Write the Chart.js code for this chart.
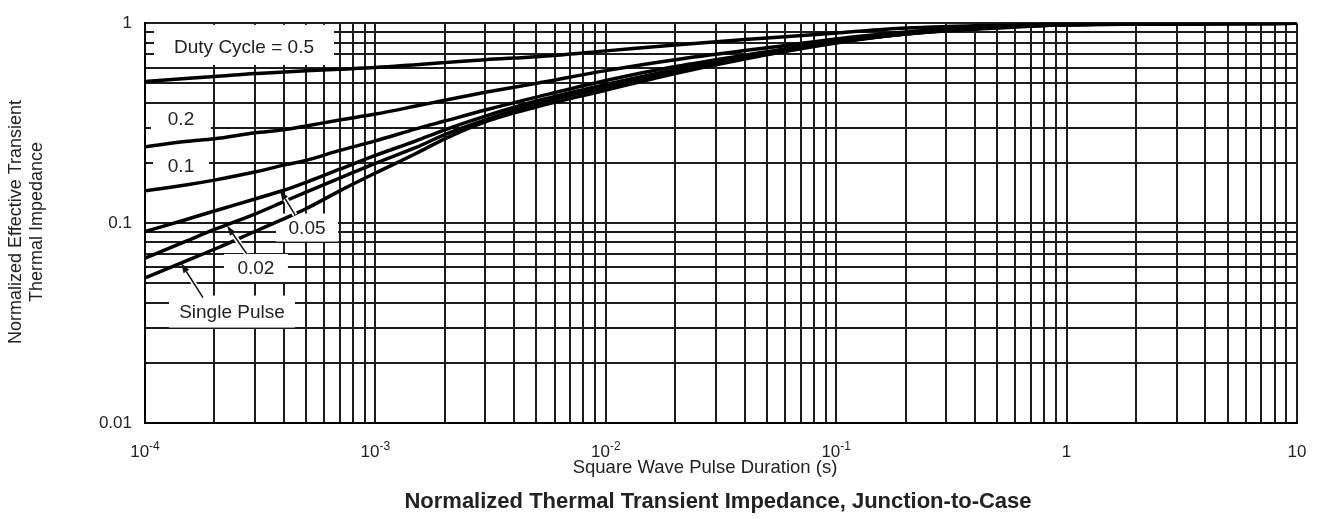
<!DOCTYPE html>
<html>
<head>
<meta charset="utf-8">
<title>Normalized Thermal Transient Impedance, Junction-to-Case</title>
<script src="https://cdn.jsdelivr.net/npm/chart.js@4"></script>
<style>
    html, body { margin: 0; padding: 0; background: #fff; }
    #wrap { width: 1319px; height: 519px; position: relative; }
</style>
</head>
<body>
<div id="wrap"><canvas id="zth"></canvas></div>
<script>
// ─────────────────────────────────────────────────────────────────────────
// Normalized transient thermal impedance vs. square wave pulse duration
// (log-log)
// ─────────────────────────────────────────────────────────────────────────

/* ── Data ─────────────────────────────────────────────────────────────── */
const pulseDuration = [1e-4, 1.5e-4, 2e-4, 3e-4, 4e-4, 5e-4, 7e-4, 1e-3, 1.5e-3, 2e-3,
                       3e-3, 5e-3, 1e-2, 2e-2, 5e-2, 0.1, 0.2, 0.5, 1, 10];

const duty05      = [0.511, 0.529, 0.541, 0.560, 0.570, 0.579, 0.589, 0.600, 0.620, 0.635,
                     0.657, 0.680, 0.727, 0.779, 0.843, 0.893, 0.945, 0.978, 0.989, 1.0];
const duty02      = [0.241, 0.256, 0.264, 0.283, 0.293, 0.306, 0.328, 0.351, 0.385, 0.412,
                     0.451, 0.500, 0.579, 0.657, 0.753, 0.834, 0.903, 0.967, 0.983, 1.0];
const duty01      = [0.145, 0.155, 0.164, 0.180, 0.195, 0.206, 0.231, 0.258, 0.296, 0.324,
                     0.368, 0.427, 0.517, 0.607, 0.719, 0.815, 0.893, 0.956, 0.983, 1.0];
const duty005     = [0.0908, 0.104, 0.115, 0.132, 0.146, 0.160, 0.186, 0.218, 0.258, 0.293,
                     0.343, 0.408, 0.494, 0.586, 0.711, 0.806, 0.883, 0.956, 0.983, 1.0];
const duty002     = [0.0668, 0.0810, 0.0929, 0.111, 0.128, 0.143, 0.168, 0.199, 0.239, 0.277,
                     0.328, 0.394, 0.478, 0.573, 0.703, 0.806, 0.883, 0.956, 0.983, 1.0];
const singlePulse = [0.0532, 0.0645, 0.0740, 0.0908, 0.105, 0.118, 0.145, 0.178, 0.223, 0.264,
                     0.321, 0.381, 0.462, 0.560, 0.695, 0.797, 0.883, 0.945, 0.983, 1.0];

const seriesNames = ['Duty Cycle = 0.5', '0.2', '0.1', '0.05', '0.02', 'Single Pulse'];

const xTickValues = [1e-4, 1e-3, 1e-2, 1e-1, 1, 10];
const xTickBase   = ['10', '10', '10', '10', '1', '10'];
const xTickExp    = ['-4', '-3', '-2', '-1', '', ''];

const yTickValues = [0.01, 0.1, 1];
const yTickLabels = ['0.01', '0.1', '1'];

/* ── Look ─────────────────────────────────────────────────────────────── */
const FONT = '"Liberation Sans", Arial, Helvetica, sans-serif';
const TEXT = '#222';
const GRID = '#1c1c1c';

// curve labels: anchor in data coords, white box size in px
const curveLabels = [
    { text: 'Duty Cycle = 0.5', x: 2.69e-4, y: 0.761,  w: 180, h: 40, dy: -2 },
    { text: '0.2',              x: 1.433e-4, y: 0.332, w: 60,  h: 28, dy: 0 },
    { text: '0.1',              x: 1.433e-4, y: 0.1945, w: 56, h: 28, dy: 0 },
    { text: '0.05',             x: 5.05e-4, y: 0.095,  w: 62,  h: 28, dy: 0 },
    { text: '0.02',             x: 3.03e-4, y: 0.0596, w: 64,  h: 28, dy: 0 },
    { text: 'Single Pulse',     x: 2.385e-4, y: 0.0361, w: 126, h: 32, dy: 0 },
];

// leader arrows: [from, to] in data coords
const arrows = [
    { from: [1.785e-4, 0.0424], to: [1.433e-4, 0.0631] },
    { from: [2.77e-4, 0.0699],  to: [2.27e-4, 0.0972] },
    { from: [4.48e-4, 0.110],   to: [3.85e-4, 0.1463] },
];

/* ── Helpers ─────────────────────────────────────────────────────────── */
function decadeTicks(min, max) {
    const out = [];
    for (let e = Math.round(Math.log10(min)); e <= Math.round(Math.log10(max)); e++) {
        for (let d = 1; d <= 9; d++) {
            const v = d * Math.pow(10, e);
            if (v >= min * 0.999 && v <= max * 1.001) out.push({ value: v });
        }
    }
    return out;
}

function series(values) {
    return pulseDuration.map((x, i) => ({ x: x, y: values[i] }));
}

const allSeries = [duty05, duty02, duty01, duty005, duty002, singlePulse];

function arrowPath(ctx, x0, y0, x1, y1, halo) {
    const ang = Math.atan2(y1 - y0, x1 - x0);
    const len = 10, half = 3.3;
    const bx = x1 - len * Math.cos(ang), by = y1 - len * Math.sin(ang);
    if (halo) {
        ctx.beginPath();
        ctx.moveTo(x0, y0);
        ctx.lineTo(bx, by);
        ctx.stroke();
        return;
    }
    ctx.beginPath();
    ctx.moveTo(x0, y0);
    ctx.lineTo(bx, by);
    ctx.stroke();
    ctx.beginPath();
    ctx.moveTo(x1, y1);
    ctx.lineTo(bx + half * Math.sin(ang), by - half * Math.cos(ang));
    ctx.lineTo(bx - half * Math.sin(ang), by + half * Math.cos(ang));
    ctx.closePath();
    ctx.fill();
}

/* ── Annotation plugin: white label boxes, arrows, titles ──────────────── */
const annotate = {
    id: 'annotate',
    beforeDatasetsDraw(chart) {
        const { ctx, scales: { x, y } } = chart;
        ctx.save();
        ctx.font = '19px ' + FONT;
        ctx.textAlign = 'center';
        ctx.textBaseline = 'middle';
        curveLabels.forEach(l => {
            const cx = x.getPixelForValue(l.x);
            const cy = y.getPixelForValue(l.y);
            ctx.fillStyle = '#fff';
            ctx.fillRect(cx - l.w / 2, cy - l.h / 2 + l.dy, l.w, l.h);
            ctx.fillStyle = TEXT;
            ctx.fillText(l.text, cx, cy + 1);
        });
        ctx.restore();
    },
    afterDatasetsDraw(chart) {
        const { ctx, scales: { x, y } } = chart;
        ctx.save();
        arrows.forEach(a => {
            const x0 = x.getPixelForValue(a.from[0]), y0 = y.getPixelForValue(a.from[1]);
            const x1 = x.getPixelForValue(a.to[0]),   y1 = y.getPixelForValue(a.to[1]);
            // white halo so the curves break where the leader crosses them
            ctx.strokeStyle = '#fff';
            ctx.lineWidth = 5;
            arrowPath(ctx, x0, y0, x1, y1, true);
            ctx.strokeStyle = '#111';
            ctx.fillStyle = '#111';
            ctx.lineWidth = 1.5;
            arrowPath(ctx, x0, y0, x1, y1, false);
        });
        ctx.restore();
    },
    afterDraw(chart) {
        const { ctx, scales: { x } } = chart;
        ctx.save();
        ctx.fillStyle = TEXT;

        // x tick labels, 10 with superscript exponent
        ctx.textBaseline = 'alphabetic';
        ctx.textAlign = 'left';
        xTickValues.forEach((v, i) => {
            const px = x.getPixelForValue(v);
            ctx.font = '17px ' + FONT;
            const wb = ctx.measureText(xTickBase[i]).width;
            ctx.font = '12px ' + FONT;
            const we = xTickExp[i] ? ctx.measureText(xTickExp[i]).width : 0;
            const left = px - (wb + we) / 2;
            ctx.font = '17px ' + FONT;
            ctx.fillText(xTickBase[i], left, 457);
            if (xTickExp[i]) {
                ctx.font = '12px ' + FONT;
                ctx.fillText(xTickExp[i], left + wb, 450);
            }
        });

        // axis titles
        ctx.textAlign = 'center';
        ctx.textBaseline = 'middle';
        ctx.font = '18.5px ' + FONT;
        ctx.fillText('Square Wave Pulse Duration (s)', 705, 468);

        ctx.font = 'bold 22px ' + FONT;
        ctx.fillText('Normalized Thermal Transient Impedance, Junction-to-Case', 718, 502);

        ctx.save();
        ctx.translate(0, 222);
        ctx.rotate(-Math.PI / 2);
        ctx.font = '18px ' + FONT;
        ctx.fillText('Normalized Effective Transient', 0, 16);
        ctx.fillText('Thermal Impedance', 0, 37);
        ctx.restore();

        ctx.restore();
    }
};

/* ── Chart ─────────────────────────────────────────────────────────────── */
const lineStyle = {
    borderColor: '#000',
    borderWidth: 3.5,
    pointRadius: 0,
    fill: false,
    cubicInterpolationMode: 'monotone',
};

new Chart(document.getElementById('zth'), {
    type: 'line',
    data: {
        datasets: allSeries.map((vals, i) => Object.assign({
            label: seriesNames[i],
            data: series(vals),
        }, lineStyle))
    },
    options: {
        responsive: true,
        maintainAspectRatio: false,
        animation: false,
        layout: { padding: { top: 18, right: 22, left: 0, bottom: 0 } },
        plugins: {
            legend: { display: false },
            tooltip: { enabled: false },
        },
        scales: {
            x: {
                type: 'logarithmic',
                min: 1e-4,
                max: 10,
                afterBuildTicks: s => { s.ticks = decadeTicks(1e-4, 10); },
                afterFit: s => { s.height = 96; },
                grid: { color: GRID, lineWidth: 2, drawTicks: false },
                border: { color: '#000', width: 2 },
                ticks: { display: false, autoSkip: false },
            },
            y: {
                type: 'logarithmic',
                min: 0.01,
                max: 1,
                afterBuildTicks: s => { s.ticks = decadeTicks(0.01, 1); },
                afterFit: s => { s.width = 145; },
                grid: { color: GRID, lineWidth: 2, drawTicks: false },
                border: { color: '#000', width: 2 },
                ticks: {
                    autoSkip: false,
                    padding: 13,
                    color: TEXT,
                    font: { family: FONT, size: 17 },
                    callback: v => {
                        const k = yTickValues.findIndex(t => Math.abs(t - v) / t < 1e-6);
                        return k >= 0 ? yTickLabels[k] : '';
                    }
                }
            }
        }
    },
    plugins: [annotate]
});
</script>
</body>
</html>
